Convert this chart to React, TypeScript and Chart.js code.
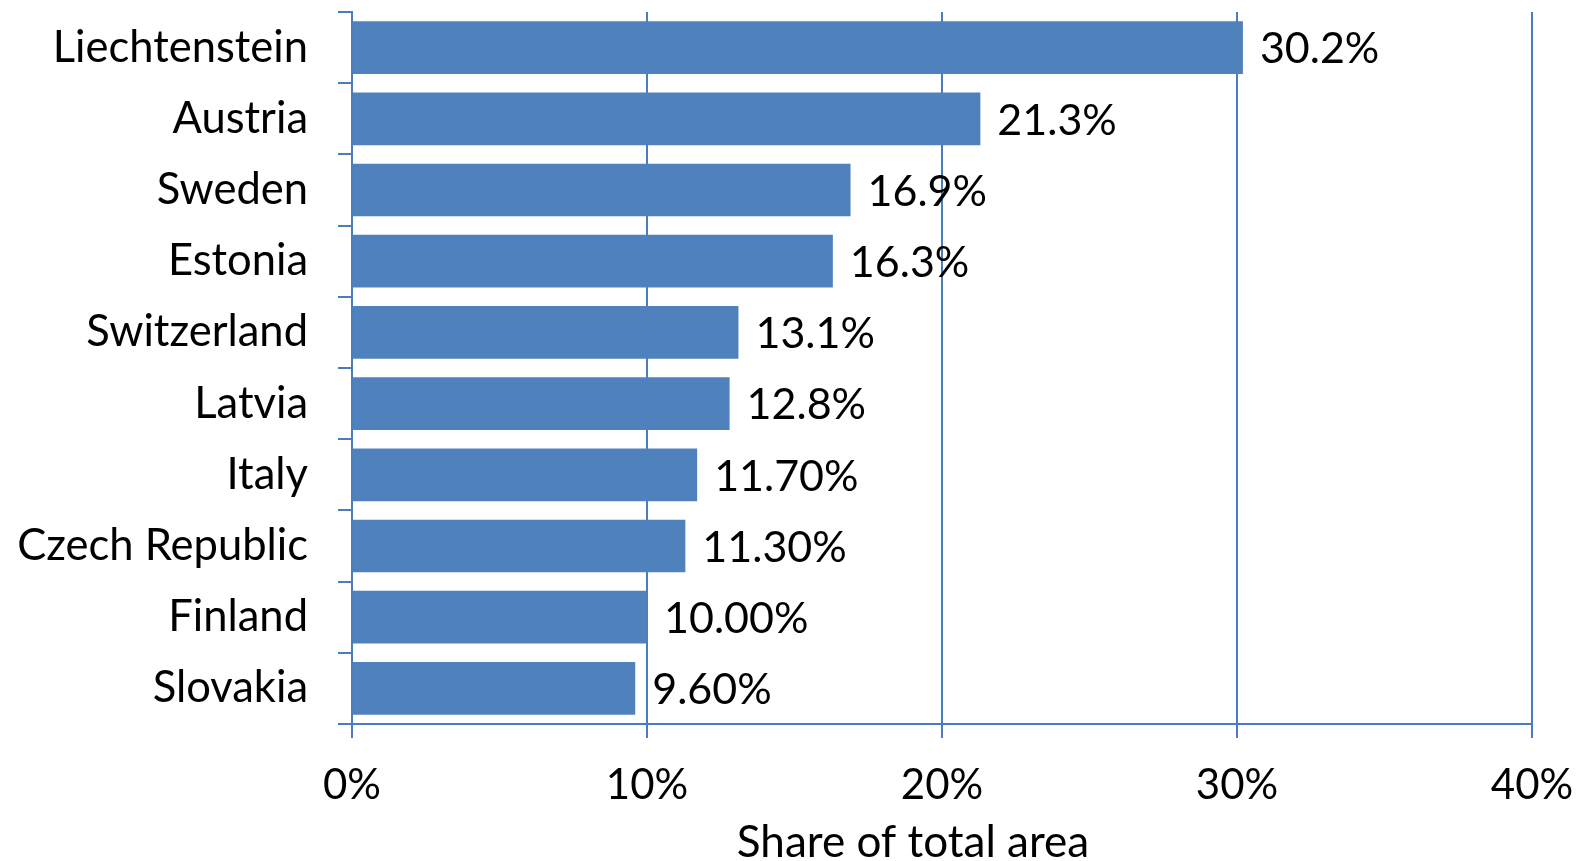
import React, { useEffect, useRef } from "react";
import { Chart, registerables } from "chart.js";

Chart.register(...registerables);

const categories = [
  "Liechtenstein",
  "Austria",
  "Sweden",
  "Estonia",
  "Switzerland",
  "Latvia",
  "Italy",
  "Czech Republic",
  "Finland",
  "Slovakia",
];
const shareValues = [30.2, 21.3, 16.9, 16.3, 13.1, 12.8, 11.7, 11.3, 10.0, 9.6];
const valueLabels = ["30.2%", "21.3%", "16.9%", "16.3%", "13.1%", "12.8%", "11.70%", "11.30%", "10.00%", "9.60%"];
const xTicks = [0, 10, 20, 30, 40];
const axisTitle = "Share of total area";

const FONT = "Lato";
const BAR = "#4F81BD";
const LINE = "#4A7EBB";

const W = 1578;
const H = 861;

function zeroPad(scale: any) {
  scale.paddingTop = 0;
  scale.paddingBottom = 0;
  scale.paddingLeft = 0;
  scale.paddingRight = 0;
}

export default function App() {
  const ref = useRef<HTMLCanvasElement | null>(null);
  useEffect(() => {
    if (!ref.current) return;
    const labelPlugin = {
      id: "valueLabels",
      afterDatasetsDraw(chart: any) {
        const ctx = chart.ctx;
        const meta = chart.getDatasetMeta(0);
        ctx.save();
        ctx.font = `43px ${FONT}`;
        ctx.fillStyle = "#000";
        ctx.textAlign = "left";
        ctx.textBaseline = "middle";
        meta.data.forEach((el: any, i: number) => {
          ctx.fillText(valueLabels[i], el.x + 17, el.y + 2);
        });
        ctx.font = `44px ${FONT}`;
        ctx.textAlign = "center";
        ctx.textBaseline = "alphabetic";
        ctx.fillText(axisTitle, 913, 857);
        ctx.restore();
      },
    };
    const chart = new Chart(ref.current, {
      type: "bar",
      data: {
        labels: categories,
        datasets: [
          {
            data: shareValues,
            backgroundColor: BAR,
            borderWidth: 0,
            categoryPercentage: 1,
            barPercentage: 0.74,
          },
        ],
      },
      options: {
        indexAxis: "y",
        animation: false,
        responsive: false,
        devicePixelRatio: 1,
        layout: { padding: { top: 12, right: 46, left: 0, bottom: 0 } },
        plugins: {
          legend: { display: false },
          tooltip: { enabled: false },
        },
        scales: {
          x: {
            type: "linear",
            min: 0,
            max: 40,
            afterBuildTicks: (scale: any) => {
              scale.ticks = xTicks.map((v) => ({ value: v }));
            },
            afterFit: (scale: any) => {
              scale.height = 137;
              zeroPad(scale);
            },
            ticks: {
              callback: (v: any) => v + "%",
              color: "#000",
              font: { family: FONT, size: 42 },
              padding: 22,
              maxRotation: 0,
            },
            grid: {
              color: LINE,
              lineWidth: 2,
              tickLength: 14,
              drawTicks: true,
            },
            border: { display: true, color: LINE, width: 2 },
          },
          y: {
            type: "category",
            offset: true,
            afterFit: (scale: any) => {
              scale.width = 352;
              zeroPad(scale);
            },
            ticks: {
              color: "#000",
              font: { family: FONT, size: 43.5 },
              padding: 30,
            },
            grid: {
              offset: true,
              drawOnChartArea: false,
              drawTicks: true,
              tickLength: 14,
              color: LINE,
              lineWidth: 2,
            },
            border: { display: true, color: LINE, width: 2 },
          },
        },
      },
      plugins: [labelPlugin],
    });
    return () => chart.destroy();
  }, []);
  return (
    <div style={{ position: "fixed", left: 0, top: 0, width: W, height: H, background: "#fff" }}>
      <canvas ref={ref} width={W} height={H} style={{ width: W, height: H }} />
    </div>
  );
}
